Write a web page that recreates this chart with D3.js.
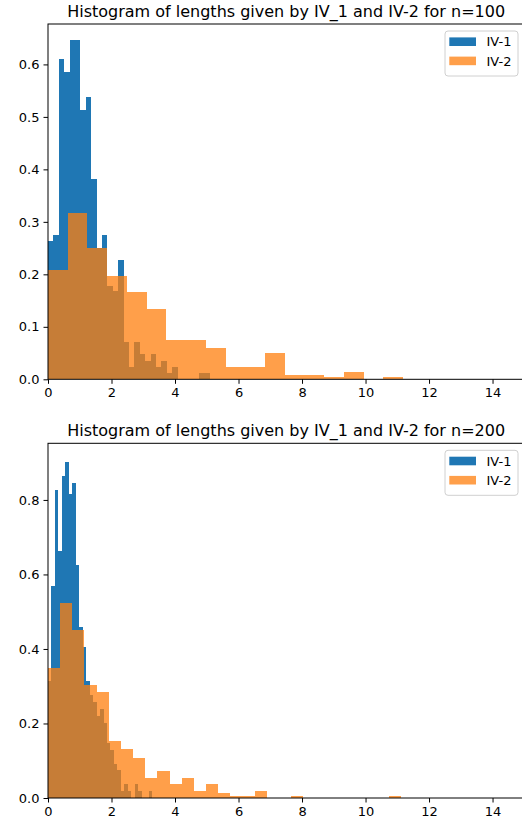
<!DOCTYPE html>
<html>
<head>
<meta charset="utf-8">
<script src="https://cdn.jsdelivr.net/npm/d3@7"></script>
<style>
  body { margin: 0; background: #fff; }
  svg { display: block; }
  text { font-family: "DejaVu Sans", sans-serif; fill: #000; }
</style>
</head>
<body>
<div class="chart"></div>
<script>
// density per bin
let topBlueStart = 0, topBlueWidth = 0.1702;
let topBlue = [0.263, 0.275, 0.610, 0.586, 0.646, 0.646, 0.514, 0.538, 0.382, 0.251,
  0.275, 0.178, 0.168, 0.227, 0.072, 0.024, 0.072, 0.048, 0.035, 0.048,
  0.024, 0.035, 0.012, 0.024, 0, 0, 0, 0, 0.012, 0.012];

let topOrangeStart = 0, topOrangeWidth = 0.6215;
let topOrange = [0.208, 0.317, 0.250, 0.196, 0.167, 0.134, 0.075, 0.075, 0.059, 0.024,
  0.024, 0.0495, 0.0082, 0.0082, 0.0038, 0.0133, 0, 0.0038];

let botBlueStart = 0, botBlueWidth = 0.1093;
let botBlue = [0.313, 0.570, 0.828, 0.662, 0.865, 0.902, 0.815, 0.846, 0.626, 0.460,
  0.405, 0.313, 0.276, 0.258, 0.221, 0.239, 0.202, 0.147, 0.129, 0.092,
  0.074, 0.018, 0.037, 0.018, 0, 0.037, 0.018, 0, 0, 0.018];

let botOrangeStart = 0, botOrangeWidth = 0.383;
let botOrange = [0.350, 0.523, 0.451, 0.303, 0.285, 0.154, 0.131, 0.107, 0.053, 0.072,
  0.037, 0.053, 0.020, 0.037, 0.0125, 0.0063, 0.0063, 0.020, 0, 0,
  0.0063, 0, 0, 0, 0, 0, 0, 0, 0.0063];

let xTicks = [0, 2, 4, 6, 8, 10, 12, 14];
let topYTicks = [0, 0.1, 0.2, 0.3, 0.4, 0.5, 0.6];
let botYTicks = [0, 0.2, 0.4, 0.6, 0.8];
let seriesNames = ["IV-1", "IV-2"];
let titles = ["Histogram of lengths given by IV_1 and IV-2 for n=100",
              "Histogram of lengths given by IV_1 and IV-2 for n=200"];

let blue = "#1f77b4", orange = "#ff7f0e";

let svg = d3.select(".chart").append("svg")
    .attr("width", 522)
    .attr("height", 825);

function panel(top, bottom, yMax, yTicks, blueBins, orangeBins, title) {
  let left = 48, right = 524.3;
  let x = d3.scaleLinear().domain([0, 15]).range([left, right]);
  let y = d3.scaleLinear().domain([0, yMax]).range([bottom, top]);
  let g = svg.append("g");

  function bars(b, color, opacity) {
    let rows = b.vals.map((v, i) => ({x0: b.start + i * b.width, x1: b.start + (i + 1) * b.width, v: v}))
      .filter(d => d.v > 0);
    g.append("g").selectAll("rect")
      .data(rows)
      .enter().append("rect")
        .attr("x", d => x(d.x0))
        .attr("width", d => x(d.x1) - x(d.x0))
        .attr("y", d => y(d.v))
        .attr("height", d => y(0) - y(d.v))
        .attr("fill", color)
        .attr("fill-opacity", opacity)
        .attr("shape-rendering", "crispEdges");
  }
  bars(blueBins, blue, 1);
  bars(orangeBins, orange, 0.75);

  let xAxis = d3.axisBottom(x).tickValues(xTicks).tickFormat(d3.format("d"))
      .tickSize(4.5).tickPadding(4).tickSizeOuter(0);
  let yAxis = d3.axisLeft(y).tickValues(yTicks).tickFormat(d3.format(".1f"))
      .tickSize(4.5).tickPadding(4).tickSizeOuter(0);

  let ax = g.append("g").attr("transform", "translate(0," + bottom + ")").call(xAxis);
  let ay = g.append("g").attr("transform", "translate(" + left + ",0)").call(yAxis);
  [ax, ay].forEach(a => {
    a.selectAll("text").style("font-family", "DejaVu Sans").style("font-size", "13px").attr("fill", "#000");
    a.selectAll("line").attr("stroke", "#000").attr("stroke-width", 1);
    a.select(".domain").remove();
  });

  // spines
  g.append("rect")
    .attr("x", left).attr("y", top)
    .attr("width", right - left).attr("height", bottom - top)
    .attr("fill", "none").attr("stroke", "#000").attr("stroke-width", 1);

  g.append("text")
    .attr("x", (left + right) / 2)
    .attr("y", top - 7.5)
    .attr("text-anchor", "middle")
    .style("font-size", "16px")
    .text(title);

  // legend
  let lg = g.append("g").attr("transform", "translate(445," + (top + 7) + ")");
  lg.append("rect")
    .attr("width", 73).attr("height", 45).attr("rx", 3)
    .attr("fill", "#fff").attr("fill-opacity", 0.8)
    .attr("stroke", "#d0d0d0").attr("stroke-width", 1);
  seriesNames.forEach((name, i) => {
    let cy = 10.7 + i * 19.2;
    lg.append("rect")
      .attr("x", 4.3).attr("y", cy - 4.3)
      .attr("width", 26.7).attr("height", 8.6)
      .attr("fill", i == 0 ? blue : orange)
      .attr("fill-opacity", i == 0 ? 1 : 0.75);
    lg.append("text")
      .attr("x", 41.5).attr("y", cy + 4.7)
      .style("font-size", "13px")
      .text(name);
  });
}

panel(24, 379.3, 0.677, topYTicks,
  {start: topBlueStart, width: topBlueWidth, vals: topBlue},
  {start: topOrangeStart, width: topOrangeWidth, vals: topOrange},
  titles[0]);

panel(443.3, 798, 0.952, botYTicks,
  {start: botBlueStart, width: botBlueWidth, vals: botBlue},
  {start: botOrangeStart, width: botOrangeWidth, vals: botOrange},
  titles[1]);
</script>
</body>
</html>
